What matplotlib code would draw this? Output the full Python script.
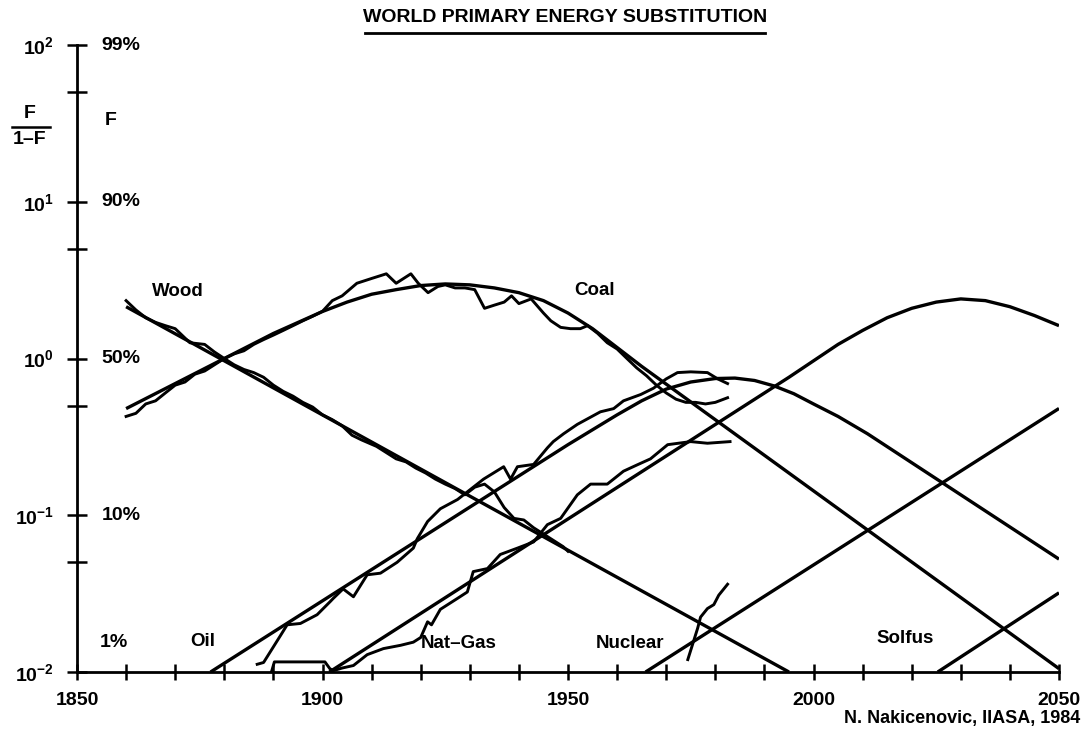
import matplotlib
matplotlib.use("Agg")
import matplotlib.pyplot as plt
from matplotlib.lines import Line2D

plt.rcParams['font.family'] = ['Liberation Sans', 'DejaVu Sans']
plt.rcParams['font.weight'] = 'bold'
plt.rcParams['mathtext.fontset'] = 'custom'
plt.rcParams['mathtext.rm'] = 'Liberation Sans:bold'
plt.rcParams['mathtext.bf'] = 'Liberation Sans:bold'
plt.rcParams['mathtext.it'] = 'Liberation Sans:bold'

# ---- fitted substitution curves, F/(1-F) ----
wood_fit_years = [1860, 1995]
wood_fit = [2.14, 0.01]

coal_fit_years = [1860, 1870, 1880, 1890, 1900, 1905, 1910, 1915, 1920, 1925,
                  1930, 1935, 1940, 1945, 1950, 1955, 1960, 1965, 2050]
coal_fit = [0.479, 0.692, 1.0, 1.445, 1.995, 2.29, 2.57, 2.75, 2.92, 2.99,
            2.95, 2.82, 2.63, 2.34, 1.95, 1.55, 1.175, 0.891, 0.0105]

oil_fit_years = [1877.2, 1950, 1960, 1965, 1970, 1975, 1980, 1984, 1988, 1992,
                 1996, 2000, 2005, 2011, 2050]
oil_fit = [0.01, 0.282, 0.437, 0.537, 0.638, 0.708, 0.745, 0.75, 0.724, 0.668,
           0.596, 0.513, 0.427, 0.331, 0.0525]

gas_fit_years = [1901.4, 1995, 2005, 2010, 2015, 2020, 2025, 2030, 2035, 2040,
                 2045, 2050]
gas_fit = [0.01, 0.759, 1.23, 1.51, 1.82, 2.09, 2.29, 2.40, 2.34, 2.14, 1.88, 1.62]

nuclear_fit_years = [1965.8, 2050]
nuclear_fit = [0.01, 0.48]

solfus_fit_years = [2025.3, 2050]
solfus_fit = [0.01, 0.032]

# ---- historical data ----
wood_years = [1860, 1862, 1864, 1866, 1868, 1870, 1873, 1876, 1878, 1880, 1882,
              1884, 1886, 1888, 1890, 1892, 1894, 1896, 1898, 1900, 1902, 1904,
              1906, 1908, 1911, 1913, 1915, 1917, 1919, 1921, 1923, 1925, 1927,
              1929, 1931, 1933, 1935, 1937, 1939, 1941, 1943, 1945, 1947, 1949,
              1950]
wood_data = [2.34, 2.04, 1.82, 1.70, 1.62, 1.55, 1.26, 1.23, 1.10, 1.0, 0.912,
             0.851, 0.813, 0.759, 0.676, 0.617, 0.575, 0.525, 0.49, 0.437, 0.407,
             0.372, 0.324, 0.302, 0.275, 0.251, 0.229, 0.219, 0.2, 0.186, 0.17,
             0.158, 0.148, 0.135, 0.151, 0.158, 0.141, 0.112, 0.0955, 0.0933,
             0.0832, 0.0759, 0.0692, 0.0631, 0.0589]

coal_years = [1860, 1862, 1864, 1866, 1868, 1870, 1872, 1874, 1876, 1878, 1880,
              1882, 1884, 1886, 1888, 1890, 1892, 1894, 1896, 1898, 1900, 1902,
              1904, 1907, 1910, 1913, 1915, 1918, 1919.5, 1921.5, 1923.5, 1925,
              1927, 1929, 1931, 1933, 1935, 1937, 1938.5, 1940, 1942.5, 1945,
              1946.5, 1948.5, 1950.5, 1952.5, 1954, 1956, 1958, 1960, 1962, 1964,
              1966, 1968, 1970, 1972, 1974, 1976, 1978, 1980, 1982.5]
coal_data = [0.427, 0.447, 0.513, 0.537, 0.603, 0.676, 0.708, 0.794, 0.832,
             0.912, 1.0, 1.07, 1.12, 1.23, 1.32, 1.41, 1.51, 1.62, 1.74, 1.86,
             2.0, 2.34, 2.51, 3.02, 3.24, 3.47, 3.02, 3.47, 3.02, 2.63, 2.88,
             2.95, 2.82, 2.82, 2.75, 2.09, 2.19, 2.29, 2.51, 2.24, 2.40, 1.95,
             1.74, 1.58, 1.55, 1.55, 1.62, 1.45, 1.26, 1.15, 1.0, 0.871, 0.776,
             0.676, 0.603, 0.55, 0.525, 0.525, 0.513, 0.525, 0.562]

oil_years = [1886.7, 1888, 1891.4, 1892.8, 1895.5, 1898.9, 1901.6, 1902.2, 1904.2,
             1906.3, 1909.1, 1911.8, 1915.2, 1918.5, 1919.3, 1921.4, 1924, 1927.5,
             1929.5, 1932.8, 1936.9, 1938.3, 1939.7, 1943, 1945.8, 1947, 1949.1,
             1951.9, 1956.6, 1959.3, 1961.3, 1964.8, 1967.4, 1970, 1972.3, 1975,
             1978.4, 1980.5, 1982.5]
oil_data = [0.0112, 0.0115, 0.017, 0.02, 0.0204, 0.0232, 0.0282, 0.0295, 0.0339,
            0.0302, 0.0417, 0.0427, 0.0501, 0.0617, 0.0708, 0.0912, 0.11, 0.126,
            0.141, 0.17, 0.204, 0.17, 0.204, 0.211, 0.269, 0.295, 0.331, 0.38,
            0.457, 0.479, 0.537, 0.589, 0.646, 0.741, 0.813, 0.822, 0.813,
            0.741, 0.692]

gas_years = [1889.6, 1890.2, 1900.5, 1901.5, 1902.2, 1904, 1906.3, 1909.1, 1912.4,
             1915.9, 1918.5, 1920, 1921.4, 1922.2, 1924, 1927.5, 1929.5, 1930.7,
             1933.6, 1936.2, 1939.7, 1943, 1945.8, 1948.5, 1951.9, 1954.6, 1958,
             1961.3, 1964, 1966.8, 1970.3, 1975, 1978.4, 1983]
gas_data = [0.01, 0.0116, 0.0116, 0.0105, 0.0102, 0.0106, 0.011, 0.0129, 0.0141,
            0.0148, 0.0155, 0.0166, 0.0209, 0.02, 0.0251, 0.0295, 0.0324, 0.0437,
            0.0457, 0.0562, 0.0617, 0.0676, 0.0871, 0.0955, 0.135, 0.158, 0.158,
            0.191, 0.209, 0.229, 0.282, 0.295, 0.288, 0.295]

nuclear_years = [1974.4, 1976.4, 1977, 1978.4, 1979.7, 1980.7, 1982.5]
nuclear_data = [0.012, 0.019, 0.0224, 0.0254, 0.0269, 0.0309, 0.0363]

# ---- axis labelling ----
decade_ticks = [0.01, 0.1, 1, 10, 100]
decade_labels = [r'$10^{-2}$', r'$10^{-1}$', r'$10^{0}$', r'$10^{1}$', r'$10^{2}$']
half_ticks = [0.05, 0.5, 5, 50]
percent_pos = [100, 10, 1, 0.1]
percent_labels = ['99%', '90%', '50%', '10%']
year_ticks = list(range(1850, 2051, 10))
year_labels = ['1850', '1900', '1950', '2000', '2050']

curve_labels = ['Wood', 'Coal', 'Oil', 'Nat\u2013Gas', 'Nuclear', 'Solfus']
curve_label_x = [1870.6, 1955.4, 1875.7, 1927.7, 1962.7, 2018.6]
curve_label_y = [2.66, 2.70, 0.0156, 0.0153, 0.0153, 0.0163]


def main():
    fig = plt.figure(figsize=(10.86, 7.40), dpi=100)
    ax = fig.add_axes([77 / 1086, 1 - 672 / 740, (1059 - 77) / 1086, (672 - 45) / 740])
    ax.set_yscale('log')
    ax.set_xlim(1850, 2050)
    ax.set_ylim(0.01, 100)

    fits = [(wood_fit_years, wood_fit), (coal_fit_years, coal_fit),
            (oil_fit_years, oil_fit), (gas_fit_years, gas_fit),
            (nuclear_fit_years, nuclear_fit), (solfus_fit_years, solfus_fit)]
    for yrs, vals in fits:
        ax.plot(yrs, vals, color='black', lw=2.4, solid_capstyle='butt')

    data = [(wood_years, wood_data), (coal_years, coal_data), (oil_years, oil_data),
            (gas_years, gas_data), (nuclear_years, nuclear_data)]
    for yrs, vals in data:
        ax.plot(yrs, vals, color='black', lw=2.1, solid_joinstyle='round')

    for sp in ['top', 'right']:
        ax.spines[sp].set_visible(False)
    for sp in ['left', 'bottom']:
        ax.spines[sp].set_linewidth(2.0)

    ax.set_xticks(year_ticks)
    ax.set_xticklabels([str(y) if str(y) in year_labels else '' for y in year_ticks])
    ax.tick_params(axis='x', direction='inout', length=11, width=1.8, pad=9,
                   labelsize=14)
    ax.set_yticks(decade_ticks)
    ax.set_yticklabels(decade_labels)
    ax.set_yticks(half_ticks, minor=True)
    ax.yaxis.set_minor_formatter(plt.NullFormatter())
    ax.tick_params(axis='y', which='both', direction='inout', length=15, width=1.8,
                   pad=9, labelsize=14)

    ytr = ax.get_yaxis_transform()
    for pos, lab in zip(percent_pos, percent_labels):
        ax.text(0.025, pos, lab, transform=ytr, ha='left', va='center',
                fontsize=14, fontweight='bold')
    ax.text(0.023, 0.0155, '1%', transform=ytr, ha='left', va='center',
            fontsize=14, fontweight='bold')
    ax.text(0.034, 33, 'F', transform=ytr, ha='center', va='center',
            fontsize=14, fontweight='bold')

    fig.text(30 / 1086, 1 - 113 / 740, 'F', ha='center', va='center',
             fontsize=14, fontweight='bold')
    fig.add_artist(Line2D([12 / 1086, 50 / 1086], [1 - 127 / 740, 1 - 127 / 740],
                          color='black', lw=1.8))
    fig.text(30 / 1086, 1 - 140 / 740, '1\u2013F', ha='center', va='center',
             fontsize=14, fontweight='bold')

    for lab, x, y in zip(curve_labels, curve_label_x, curve_label_y):
        ax.text(x, y, lab, ha='center', va='center', fontsize=13.5,
                fontweight='bold')

    fig.text(565 / 1086, 1 - 18 / 740, 'WORLD PRIMARY ENERGY SUBSTITUTION',
             ha='center', va='center', fontsize=14, fontweight='bold')
    fig.add_artist(Line2D([365 / 1086, 765 / 1086], [1 - 33 / 740, 1 - 33 / 740],
                          color='black', lw=2.0))
    fig.text(1080 / 1086, 1 - 718 / 740, 'N. Nakicenovic, IIASA, 1984',
             ha='right', va='center', fontsize=13, fontweight='bold')

    fig.savefig('out.png', dpi=100)


if __name__ == '__main__':
    main()
